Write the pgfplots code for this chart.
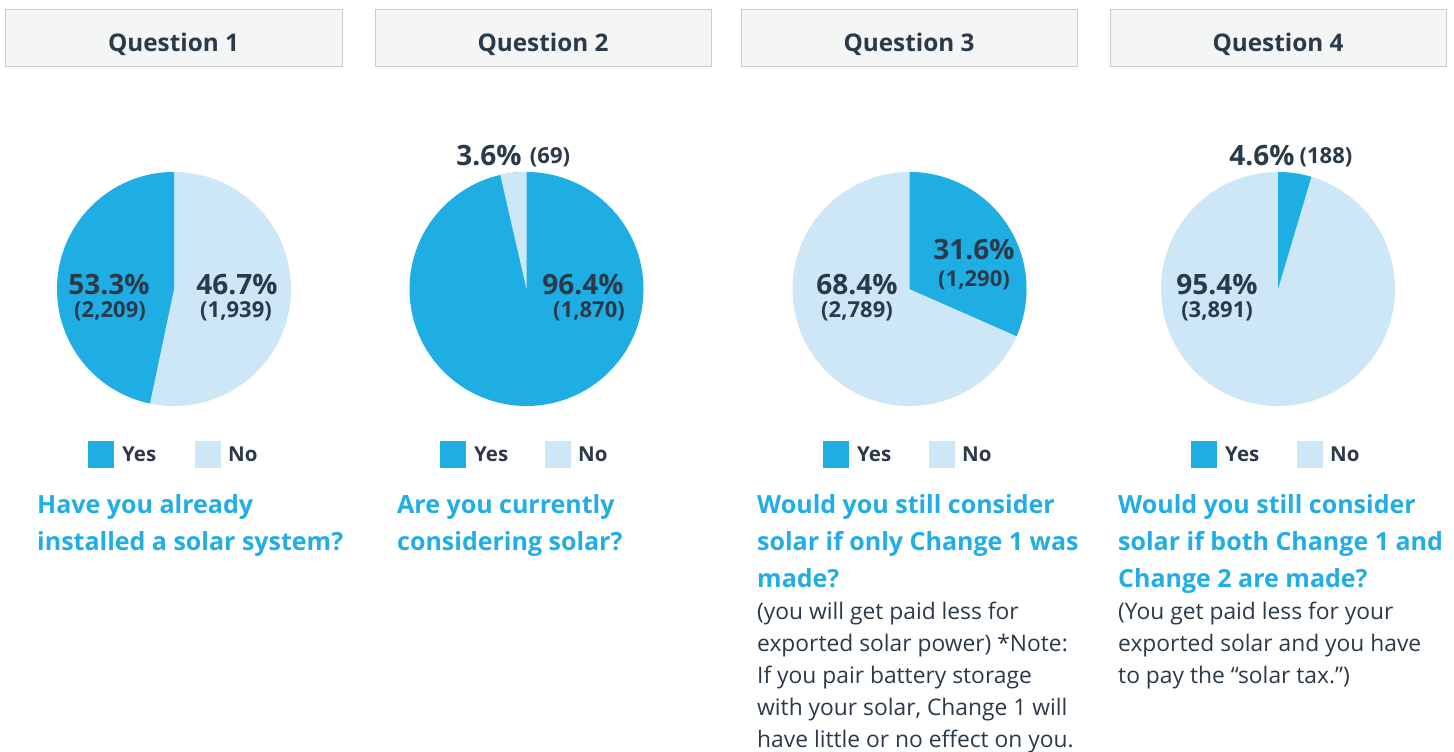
\documentclass[border=0pt]{standalone}
\usepackage{pgfplots}
\pgfplotsset{compat=1.18}
\usepackage{fontspec}
\setmainfont{Open Sans}
\definecolor{dk}{HTML}{1FAEE3}
\definecolor{lt}{HTML}{CDE7F7}
\definecolor{tx}{HTML}{2B3A4A}
\definecolor{qb}{HTML}{22AEE4}
\definecolor{hfill}{HTML}{F4F6F6}
\definecolor{hline}{HTML}{C9CDD0}
% #1 centre coordinate name, #2 base colour, #3 wedge colour, #4 share (%), #5 direction (+1 ccw, -1 cw)
\newcommand{\pie}[5]{%
  \begin{axis}[at={(#1)},anchor=center,width=234pt,height=234pt,
    scale only axis,hide axis,xmin=-1,xmax=1,ymin=-1,ymax=1]
    \fill[#2] (axis cs:0,0) circle[radius=117pt];
    \fill[#3] (axis cs:0,0) -- (axis cs:0,1) arc[start angle=90,delta angle={#5*#4*3.6},radius=117pt] -- cycle;
  \end{axis}}
\newcommand{\hdr}[3]{%
  \fill[hfill,draw=hline,line width=1pt] (#1,685) rectangle (#2,742);
  \node[anchor=base,text=tx,font=\fontsize{24.3}{28}\selectfont\bfseries,inner sep=0pt] at ({(#1+#2)/2},700) {#3};}
\newcommand{\leg}[2]{%
  \fill[dk] (#1,284) rectangle ({#1+26},311);
  \node[anchor=base west,text=tx,font=\fontsize{20.5}{24}\selectfont\bfseries,inner sep=0pt] at ({#1+34},290) {Yes};
  \fill[lt] (#2,284) rectangle ({#2+26},311);
  \node[anchor=base west,text=tx,font=\fontsize{20.5}{24}\selectfont\bfseries,inner sep=0pt] at ({#2+33},290) {No};}
\newcommand{\pct}[3]{\node[anchor=base,text=tx,font=\fontsize{28}{32}\selectfont\bfseries,inner sep=0pt] at (#1,#2) {#3};}
\newcommand{\cnt}[3]{\node[anchor=base,text=tx,font=\fontsize{22}{26}\selectfont\bfseries,inner sep=0pt] at (#1,#2) {#3};}
\newcommand{\qline}[3]{\node[anchor=base west,text=qb,font=\fontsize{25}{29}\selectfont\bfseries,inner sep=0pt] at (#1,#2) {#3};}
\newcommand{\bline}[3]{\node[anchor=base west,text=tx,font=\fontsize{22.8}{26}\selectfont,inner sep=0pt] at (#1,#2) {#3};}
\begin{document}
\begin{tikzpicture}[x=1pt,y=1pt]
\useasboundingbox (0,0) rectangle (1454,752);
\fill[white] (0,0) rectangle (1454,752);
\coordinate (c1) at (174,463);
\coordinate (c2) at (526.5,463);
\coordinate (c3) at (909.5,463);
\coordinate (c4) at (1278,463);
% headers
\hdr{5}{342}{Question 1}
\hdr{375}{711}{Question 2}
\hdr{741}{1077}{Question 3}
\hdr{1110}{1446}{Question 4}
% pies
\pie{c1}{lt}{dk}{46.7}{1}
\pie{c2}{dk}{lt}{3.6}{1}
\pie{c3}{lt}{dk}{31.6}{-1}
\pie{c4}{lt}{dk}{4.6}{-1}
% pie labels
\pct{109}{457}{53.3\%}   \cnt{110}{434}{(2,209)}
\pct{237}{457}{46.7\%}   \cnt{236}{434}{(1,939)}
\pct{489}{586}{3.6\%}    \cnt{550}{588}{(69)}
\pct{583}{457}{96.4\%}   \cnt{589}{434}{(1,870)}
\pct{974}{492}{31.6\%}   \cnt{974}{465}{(1,290)}
\pct{857}{457}{68.4\%}   \cnt{857}{434}{(2,789)}
\pct{1262}{586}{4.6\%}   \cnt{1326}{588}{(188)}
\pct{1217}{457}{95.4\%}  \cnt{1217}{434}{(3,891)}
% legends
\leg{88}{195}
\leg{440}{545}
\leg{823}{929}
\leg{1191}{1297}
% question texts
\qline{37}{238}{Have you already}
\qline{37}{201}{installed a solar system?}
\qline{397}{238}{Are you currently}
\qline{397}{201}{considering solar?}
\qline{757}{238}{Would you still consider}
\qline{757}{201}{solar if only Change 1 was}
\qline{757}{164}{made?}
\bline{757}{132}{(you will get paid less for}
\bline{757}{100}{exported solar power) *Note:}
\bline{757}{68}{If you pair battery storage}
\bline{757}{36}{with your solar, Change 1 will}
\bline{757}{4}{have little or no effect on you.}
\qline{1118}{238}{Would you still consider}
\qline{1118}{201}{solar if both Change 1 and}
\qline{1118}{164}{Change 2 are made?}
\bline{1118}{132}{(You get paid less for your}
\bline{1118}{100}{exported solar and you have}
\bline{1118}{68}{to pay the “solar tax.”)}
\end{tikzpicture}
\end{document}
